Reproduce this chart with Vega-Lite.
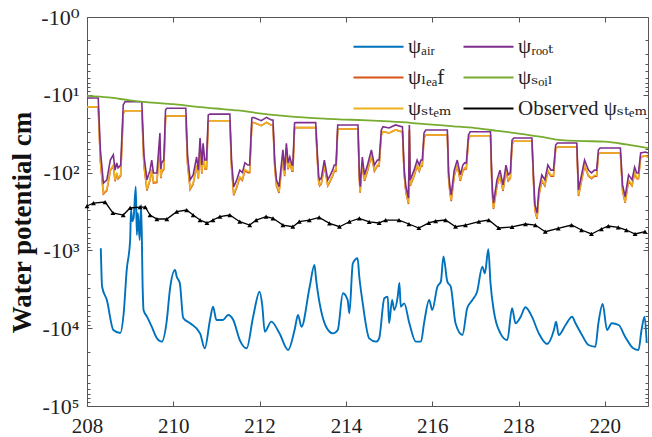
{
"$schema": "https://vega.github.io/schema/vega-lite/v6.json",
"width": 561, "height": 389,
"autosize": {"type": "none"},
"padding": {"left": 87, "top": 17, "right": 4, "bottom": 31},
"background": "white",
"config": {"view": {"stroke": "#555555", "strokeWidth": 1}, "font": "Liberation Serif"},
"datasets": {
"air": [
{"t":208.32,"v":940},{"t":208.35,"v":2930},{"t":208.46,"v":4340},{"t":208.61,"v":10550},{"t":208.77,"v":11530},{"t":208.85,"v":6430},{"t":208.92,"v":1790},{"t":209.00,"v":735},{"t":209.02,"v":303},{"t":209.05,"v":420},{"t":209.08,"v":380},{"t":209.13,"v":152},{"t":209.155,"v":634},{"t":209.18,"v":330},{"t":209.22,"v":735},{"t":209.255,"v":261},{"t":209.29,"v":3000},{"t":209.31,"v":5830},{"t":209.39,"v":7110},{"t":209.50,"v":9570},{"t":209.62,"v":13490},{"t":209.73,"v":14900},{"t":209.85,"v":7850},{"t":209.92,"v":3230},{"t":210.04,"v":1790},{"t":210.08,"v":2180},{"t":210.15,"v":2620},{"t":210.23,"v":7400},{"t":210.39,"v":8650},{"t":210.62,"v":11640},{"t":210.73,"v":18130},{"t":210.85,"v":7850},{"t":210.92,"v":5290},{"t":211.00,"v":7850},{"t":211.15,"v":7850},{"t":211.27,"v":6770},{"t":211.39,"v":7850},{"t":211.54,"v":14190},{"t":211.70,"v":18130},{"t":211.85,"v":7110},{"t":212.00,"v":3400},{"t":212.06,"v":5030},{"t":212.12,"v":11090},{"t":212.27,"v":8240},{"t":212.46,"v":11640},{"t":212.66,"v":19070},{"t":212.81,"v":10550},{"t":212.89,"v":6770},{"t":212.97,"v":9570},{"t":213.16,"v":2930},{"t":213.27,"v":1540},{"t":213.31,"v":2400},{"t":213.54,"v":9570},{"t":213.70,"v":11640},{"t":213.81,"v":10550},{"t":213.93,"v":3560},{"t":214.04,"v":4340},{"t":214.08,"v":6430},{"t":214.16,"v":1470},{"t":214.27,"v":1260},{"t":214.31,"v":2180},{"t":214.39,"v":4790},{"t":214.54,"v":13490},{"t":214.70,"v":14900},{"t":214.77,"v":13490},{"t":214.89,"v":4130},{"t":214.97,"v":3940},{"t":215.00,"v":8650},{"t":215.07,"v":4340},{"t":215.12,"v":5830},{"t":215.20,"v":3940},{"t":215.24,"v":2620},{"t":215.27,"v":5290},{"t":215.35,"v":4790},{"t":215.47,"v":8650},{"t":215.62,"v":14900},{"t":215.74,"v":14900},{"t":215.81,"v":8650},{"t":215.93,"v":4340},{"t":216.00,"v":5830},{"t":216.12,"v":2930},{"t":216.20,"v":2520},{"t":216.26,"v":1200},{"t":216.35,"v":2520},{"t":216.43,"v":2930},{"t":216.54,"v":8650},{"t":216.70,"v":12230},{"t":216.81,"v":5550},{"t":216.93,"v":4340},{"t":217.04,"v":3400},{"t":217.16,"v":1620},{"t":217.22,"v":1970},{"t":217.30,"v":968},{"t":217.35,"v":2620},{"t":217.43,"v":6140},{"t":217.58,"v":11640},{"t":217.74,"v":14190},{"t":217.85,"v":5550},{"t":217.93,"v":8650},{"t":218.05,"v":7110},{"t":218.16,"v":5380},{"t":218.31,"v":7110},{"t":218.47,"v":11640},{"t":218.66,"v":15960},{"t":218.82,"v":10550},{"t":218.87,"v":8240},{"t":218.93,"v":12230},{"t":219.09,"v":9100},{"t":219.24,"v":7110},{"t":219.32,"v":8650},{"t":219.47,"v":12230},{"t":219.62,"v":16440},{"t":219.78,"v":17300},{"t":219.85,"v":8650},{"t":219.95,"v":4890},{"t":220.05,"v":10550},{"t":220.16,"v":8650},{"t":220.32,"v":9100},{"t":220.47,"v":12850},{"t":220.66,"v":18130},{"t":220.78,"v":19070},{"t":220.85,"v":10550},{"t":220.92,"v":7110},{"t":220.97,"v":15490}
],
"soil": [
{"t":208.0,"v":10.3},{"t":208.5,"v":10.8},{"t":209.0,"v":11.8},{"t":209.5,"v":12.6},{"t":210.0,"v":13.2},{"t":210.5,"v":14.2},{"t":211.0,"v":15.0},{"t":211.5,"v":15.9},{"t":212.0,"v":17.3},{"t":212.5,"v":18.5},{"t":213.0,"v":19.5},{"t":213.5,"v":20.3},{"t":214.0,"v":20.8},{"t":214.5,"v":21.3},{"t":215.0,"v":22.0},{"t":215.5,"v":22.9},{"t":216.0,"v":24.2},{"t":216.5,"v":25.4},{"t":217.0,"v":26.8},{"t":217.5,"v":29.0},{"t":218.0,"v":31.5},{"t":218.5,"v":34.5},{"t":219.0,"v":38.3},{"t":219.5,"v":39.3},{"t":220.0,"v":40.0},{"t":220.5,"v":43.5},{"t":221.0,"v":48.5}
],
"obs": [
{"t":208.00,"v":269},{"t":208.15,"v":246},{"t":208.42,"v":239},{"t":208.60,"v":330},{"t":208.84,"v":351},{"t":209.00,"v":285},{"t":209.23,"v":277},{"t":209.35,"v":277},{"t":209.46,"v":351},{"t":209.62,"v":395},{"t":209.85,"v":395},{"t":210.08,"v":318},{"t":210.31,"v":303},{"t":210.46,"v":351},{"t":210.62,"v":407},{"t":210.78,"v":444},{"t":210.92,"v":407},{"t":211.08,"v":369},{"t":211.31,"v":351},{"t":211.54,"v":428},{"t":211.77,"v":472},{"t":211.92,"v":407},{"t":212.15,"v":369},{"t":212.31,"v":387},{"t":212.54,"v":472},{"t":212.77,"v":496},{"t":212.92,"v":428},{"t":213.15,"v":407},{"t":213.38,"v":376},{"t":213.62,"v":449},{"t":213.85,"v":496},{"t":214.08,"v":428},{"t":214.31,"v":387},{"t":214.54,"v":431},{"t":214.77,"v":444},{"t":214.92,"v":407},{"t":215.23,"v":407},{"t":215.46,"v":458},{"t":215.69,"v":515},{"t":215.92,"v":444},{"t":216.08,"v":419},{"t":216.31,"v":407},{"t":216.54,"v":496},{"t":216.77,"v":472},{"t":217.08,"v":428},{"t":217.31,"v":407},{"t":217.54,"v":515},{"t":217.85,"v":500},{"t":218.16,"v":458},{"t":218.39,"v":472},{"t":218.62,"v":575},{"t":218.92,"v":520},{"t":219.23,"v":472},{"t":219.46,"v":547},{"t":219.69,"v":615},{"t":219.92,"v":531},{"t":220.08,"v":486},{"t":220.31,"v":505},{"t":220.50,"v":547},{"t":220.70,"v":615},{"t":220.93,"v":575}
],
"plant": [
{"t":208.00,"root":11.0,"stem":14.3,"leaf":14.3},{"t":208.26,"root":11.0,"stem":14.3,"leaf":14.3},{"t":208.31,"root":51,"stem":70,"leaf":72},{"t":208.38,"root":136,"stem":183,"leaf":188},{"t":208.46,"root":124,"stem":165,"leaf":170},{"t":208.54,"root":69,"stem":92,"leaf":95},{"t":208.61,"root":59,"stem":80,"leaf":82},{"t":208.65,"root":93,"stem":125,"leaf":129},{"t":208.69,"root":75,"stem":100,"leaf":103},{"t":208.72,"root":87,"stem":117,"leaf":120},{"t":208.78,"root":80,"stem":107,"leaf":110},{"t":208.84,"root":13.5,"stem":17.5,"leaf":17.5},{"t":208.88,"root":12.3,"stem":16.0,"leaf":16.0},
{"t":209.27,"root":12.3,"stem":16.0,"leaf":16.0},{"t":209.32,"root":60,"stem":80,"leaf":82},{"t":209.39,"root":124,"stem":165,"leaf":170},{"t":209.46,"root":93,"stem":122,"leaf":126},{"t":209.50,"root":69,"stem":90,"leaf":93},{"t":209.54,"root":101,"stem":132,"leaf":136},{"t":209.62,"root":101,"stem":130,"leaf":134},{"t":209.69,"root":31,"stem":40,"leaf":41},{"t":209.71,"root":90,"stem":115,"leaf":118},{"t":209.73,"root":75,"stem":97,"leaf":100},{"t":209.78,"root":69,"stem":88,"leaf":91},{"t":209.82,"root":15.7,"stem":19.7,"leaf":19.7},{"t":209.85,"root":14.9,"stem":18.7,"leaf":18.7},
{"t":210.29,"root":14.9,"stem":18.7,"leaf":18.7},{"t":210.33,"root":60,"stem":76,"leaf":78},{"t":210.39,"root":124,"stem":160,"leaf":165},{"t":210.46,"root":107,"stem":137,"leaf":141},{"t":210.54,"root":63,"stem":80,"leaf":82},{"t":210.58,"root":93,"stem":117,"leaf":120},{"t":210.62,"root":36,"stem":45,"leaf":46},{"t":210.66,"root":80,"stem":100,"leaf":103},{"t":210.69,"root":42,"stem":53,"leaf":55},{"t":210.73,"root":69,"stem":87,"leaf":90},{"t":210.77,"root":69,"stem":87,"leaf":90},{"t":210.81,"root":18.2,"stem":22.2,"leaf":22.2},{"t":210.85,"root":17.7,"stem":21.6,"leaf":21.6},
{"t":211.31,"root":17.7,"stem":21.6,"leaf":21.6},{"t":211.35,"root":70,"stem":85,"leaf":88},{"t":211.40,"root":153,"stem":190,"leaf":196},{"t":211.47,"root":124,"stem":150,"leaf":155},{"t":211.54,"root":93,"stem":113,"leaf":116},{"t":211.60,"root":100,"stem":122,"leaf":126},{"t":211.66,"root":75,"stem":91,"leaf":94},{"t":211.73,"root":80,"stem":97,"leaf":100},{"t":211.77,"root":80,"stem":97,"leaf":100},{"t":211.82,"root":19.9,"stem":23.5,"leaf":23.5},{"t":211.85,"root":19.5,"stem":22.6,"leaf":22.6},{"t":212.04,"root":21.5,"stem":24.9,"leaf":24.9},{"t":212.16,"root":19.5,"stem":22.6,"leaf":22.6},{"t":212.27,"root":21.1,"stem":24.5,"leaf":24.5},
{"t":212.31,"root":21.1,"stem":24.5,"leaf":24.5},{"t":212.35,"root":70,"stem":82,"leaf":84},{"t":212.39,"root":124,"stem":145,"leaf":149},{"t":212.45,"root":152,"stem":178,"leaf":183},{"t":212.54,"root":51,"stem":60,"leaf":62},{"t":212.58,"root":93,"stem":108,"leaf":111},{"t":212.62,"root":42,"stem":49,"leaf":50},{"t":212.66,"root":75,"stem":88,"leaf":91},{"t":212.70,"root":63,"stem":73,"leaf":75},{"t":212.75,"root":80,"stem":93,"leaf":96},{"t":212.77,"root":80,"stem":93,"leaf":96},{"t":212.81,"root":23.0,"stem":26.6,"leaf":26.6},{"t":212.84,"root":22.8,"stem":26.4,"leaf":26.4},
{"t":213.30,"root":22.8,"stem":26.4,"leaf":26.4},{"t":213.34,"root":60,"stem":70,"leaf":72},{"t":213.37,"root":113,"stem":131,"leaf":135},{"t":213.39,"root":124,"stem":144,"leaf":148},{"t":213.43,"root":117,"stem":136,"leaf":140},{"t":213.50,"root":69,"stem":80,"leaf":82},{"t":213.58,"root":124,"stem":144,"leaf":148},{"t":213.62,"root":113,"stem":131,"leaf":135},{"t":213.69,"root":93,"stem":108,"leaf":111},{"t":213.73,"root":80,"stem":93,"leaf":96},{"t":213.77,"root":80,"stem":93,"leaf":96},{"t":213.81,"root":24.4,"stem":27.5,"leaf":27.5},
{"t":214.28,"root":24.4,"stem":27.5,"leaf":27.5},{"t":214.31,"root":100,"stem":115,"leaf":118},{"t":214.33,"root":152,"stem":176,"leaf":181},{"t":214.38,"root":63,"stem":73,"leaf":75},{"t":214.43,"root":107,"stem":124,"leaf":128},{"t":214.50,"root":80,"stem":93,"leaf":96},{"t":214.59,"root":51,"stem":59,"leaf":61},{"t":214.66,"root":80,"stem":93,"leaf":96},{"t":214.73,"root":69,"stem":80,"leaf":82},{"t":214.77,"root":69,"stem":80,"leaf":82},{"t":214.82,"root":28.3,"stem":32.8,"leaf":32.8},{"t":214.86,"root":25.7,"stem":29.8,"leaf":29.8},{"t":215.00,"root":26.7,"stem":31.0,"leaf":31.0},{"t":215.15,"root":24.4,"stem":28.3,"leaf":28.3},
{"t":215.31,"root":25.9,"stem":30.0,"leaf":30.0},{"t":215.35,"root":90,"stem":104,"leaf":107},{"t":215.39,"root":152,"stem":176,"leaf":181},{"t":215.45,"root":212,"stem":246,"leaf":253},{"t":215.47,"root":24.4,"stem":28.0,"leaf":29.0},{"t":215.49,"root":124,"stem":144,"leaf":148},{"t":215.58,"root":93,"stem":108,"leaf":111},{"t":215.65,"root":69,"stem":80,"leaf":82},{"t":215.70,"root":80,"stem":93,"leaf":96},{"t":215.74,"root":69,"stem":80,"leaf":82},{"t":215.77,"root":69,"stem":80,"leaf":82},{"t":215.81,"root":31.0,"stem":35.9,"leaf":35.9},{"t":215.85,"root":28.3,"stem":32.8,"leaf":32.8},
{"t":216.35,"root":28.3,"stem":32.8,"leaf":32.8},{"t":216.38,"root":100,"stem":116,"leaf":119},{"t":216.41,"root":152,"stem":176,"leaf":181},{"t":216.44,"root":194,"stem":225,"leaf":232},{"t":216.51,"root":93,"stem":108,"leaf":111},{"t":216.58,"root":69,"stem":80,"leaf":82},{"t":216.65,"root":107,"stem":124,"leaf":128},{"t":216.71,"root":80,"stem":93,"leaf":96},{"t":216.75,"root":75,"stem":87,"leaf":90},{"t":216.79,"root":75,"stem":87,"leaf":90},{"t":216.84,"root":32.9,"stem":37.5,"leaf":37.5},{"t":216.88,"root":29.8,"stem":33.6,"leaf":33.6},
{"t":217.35,"root":29.8,"stem":33.6,"leaf":33.6},{"t":217.38,"root":110,"stem":127,"leaf":131},{"t":217.40,"root":183,"stem":212,"leaf":218},{"t":217.42,"root":246,"stem":285,"leaf":294},{"t":217.50,"root":124,"stem":144,"leaf":148},{"t":217.57,"root":93,"stem":108,"leaf":111},{"t":217.64,"root":144,"stem":167,"leaf":172},{"t":217.71,"root":80,"stem":93,"leaf":96},{"t":217.76,"root":107,"stem":124,"leaf":128},{"t":217.81,"root":100,"stem":116,"leaf":119},{"t":217.85,"root":38.1,"stem":42.9,"leaf":42.9},{"t":217.89,"root":35.9,"stem":39.5,"leaf":39.5},
{"t":218.31,"root":35.9,"stem":39.5,"leaf":39.5},{"t":218.35,"root":120,"stem":140,"leaf":144},{"t":218.38,"root":261,"stem":300,"leaf":309},{"t":218.43,"root":330,"stem":380,"leaf":391},{"t":218.47,"root":167,"stem":194,"leaf":200},{"t":218.54,"root":107,"stem":124,"leaf":128},{"t":218.61,"root":124,"stem":144,"leaf":148},{"t":218.68,"root":80,"stem":93,"leaf":96},{"t":218.75,"root":93,"stem":108,"leaf":111},{"t":218.81,"root":93,"stem":108,"leaf":111},{"t":218.86,"root":44.2,"stem":49.6,"leaf":49.6},{"t":218.90,"root":41.7,"stem":46.9,"leaf":46.9},
{"t":219.35,"root":41.7,"stem":46.9,"leaf":46.9},{"t":219.39,"root":167,"stem":194,"leaf":200},{"t":219.46,"root":107,"stem":124,"leaf":128},{"t":219.53,"root":69,"stem":80,"leaf":82},{"t":219.62,"root":93,"stem":108,"leaf":111},{"t":219.69,"root":101,"stem":117,"leaf":120},{"t":219.76,"root":93,"stem":108,"leaf":111},{"t":219.81,"root":93,"stem":108,"leaf":111},{"t":219.85,"root":51.3,"stem":57.7,"leaf":57.7},{"t":219.89,"root":48.3,"stem":56.0,"leaf":56.0},
{"t":220.36,"root":48.3,"stem":56.0,"leaf":56.0},{"t":220.41,"root":144,"stem":167,"leaf":172},{"t":220.47,"root":204,"stem":237,"leaf":244},{"t":220.55,"root":107,"stem":124,"leaf":128},{"t":220.63,"root":124,"stem":144,"leaf":148},{"t":220.69,"root":85,"stem":99,"leaf":102},{"t":220.74,"root":101,"stem":117,"leaf":120},{"t":220.78,"root":101,"stem":117,"leaf":120},{"t":220.83,"root":56.0,"stem":63.0,"leaf":63.0},{"t":220.94,"root":54.3,"stem":61.0,"leaf":61.0},{"t":221.00,"root":56.0,"stem":63.0,"leaf":63.0}
]
},
"layer": [
{"data": {"name": "air"}, "mark": {"type": "line", "strokeWidth": 1.9, "interpolate": "monotone"},
 "encoding": {
  "x": {"field": "t", "type": "quantitative", "scale": {"domain": [208, 221], "nice": false},
        "axis": {"orient": "bottom", "values": [208,210,212,214,216,218,220], "tickSize": -5, "tickColor": "#555555", "domain": false, "grid": false, "title": null, "labelFont": "Liberation Serif", "labelFontSize": 21, "labelColor": "#222222", "labelPadding": 14, "labelFlush": false}},
  "y": {"field": "v", "type": "quantitative", "scale": {"type": "log", "domain": [1, 100000], "nice": false, "reverse": true},
        "axis": {"orient": "left", "values": [1,10,100,1000,10000,100000], "tickSize": -5, "tickColor": "#555555", "domain": false, "grid": false,
                 "labelExpr": "'-10' + ['⁰','¹','²','³','⁴','⁵'][round(log(datum.value)/LN10)]",
                 "labelFont": "Liberation Serif, DejaVu Serif, serif", "labelFontSize": 22, "labelColor": "#222222", "labelPadding": 13, "labelOverlap": false, "labelBound": false, "labelFlush": false,
                 "title": "Water potential cm", "titleFont": "Liberation Serif", "titleFontWeight": "bold", "titleFontSize": 27, "titleColor": "#111111", "titlePadding": 4, "titleY": 205}},
  "color": {"datum": "air",
            "scale": {"domain": ["air","leaf","stem","root","soil","observed"], "range": ["#0072BD","#D95319","#EDB120","#7E2F8E","#77AC30","#000000"]},
            "legend": {"orient": "none", "legendX": 266, "legendY": 19, "columns": 2, "symbolType": "M-2,0H8", "symbolSize": 100, "symbolStrokeWidth": 2, "labelOffset": 34, "labelFont": "Liberation Serif, DejaVu Serif, serif", "labelFontSize": 21, "labelColor": "#222222", "labelLimit": 300, "columnPadding": 7, "rowPadding": 9, "title": null, "padding": 0,
                       "labelExpr": "datum.label == 'air' ? 'ψₐᵢᵣ' : datum.label == 'root' ? 'ψᵣₒₒₜ' : datum.label == 'leaf' ? 'ψₗₑₐf' : datum.label == 'soil' ? 'ψₛₒᵢₗ' : datum.label == 'stem' ? 'ψₛₜₑₘ' : 'Observed ψₛₜₑₘ'"}}
 }},
{"data": {"name": "plant"}, "mark": {"type": "line", "strokeWidth": 1.6},
 "encoding": {
  "x": {"field": "t", "type": "quantitative", "scale": {"domain": [208, 221], "nice": false}, "axis": null},
  "y": {"field": "leaf", "type": "quantitative", "scale": {"type": "log", "domain": [1, 100000], "nice": false, "reverse": true},
        "axis": {"orient": "left", "values": [2,3,4,5,6,7,8,9,20,30,40,50,60,70,80,90,200,300,400,500,600,700,800,900,2000,3000,4000,5000,6000,7000,8000,9000,20000,30000,40000,50000,60000,70000,80000,90000], "tickSize": -3, "tickColor": "#555555", "domain": false, "grid": false, "labels": false, "title": null}},
  "color": {"datum": "leaf"}
 }},
{"data": {"name": "plant"}, "mark": {"type": "line", "strokeWidth": 1.6},
 "encoding": {
  "x": {"field": "t", "type": "quantitative", "scale": {"domain": [208, 221], "nice": false}, "axis": null},
  "y": {"field": "stem", "type": "quantitative", "scale": {"type": "log", "domain": [1, 100000], "nice": false, "reverse": true},
        "axis": {"orient": "right", "values": [2,3,4,5,6,7,8,9,20,30,40,50,60,70,80,90,200,300,400,500,600,700,800,900,2000,3000,4000,5000,6000,7000,8000,9000,20000,30000,40000,50000,60000,70000,80000,90000], "tickSize": -3, "tickColor": "#555555", "domain": false, "grid": false, "labels": false, "title": null}},
  "color": {"datum": "stem"}
 }},
{"data": {"name": "plant"}, "mark": {"type": "line", "strokeWidth": 1.6},
 "encoding": {
  "x": {"field": "t", "type": "quantitative", "scale": {"domain": [208, 221], "nice": false},
        "axis": {"orient": "top", "values": [208,210,212,214,216,218,220], "tickSize": -5, "tickColor": "#555555", "domain": false, "grid": false, "labels": false, "title": null}},
  "y": {"field": "root", "type": "quantitative", "scale": {"type": "log", "domain": [1, 100000], "nice": false, "reverse": true},
        "axis": {"orient": "right", "values": [1,10,100,1000,10000,100000], "tickSize": -5, "tickColor": "#555555", "domain": false, "grid": false, "labels": false, "title": null}},
  "color": {"datum": "root"}
 }},
{"data": {"name": "soil"}, "mark": {"type": "line", "strokeWidth": 1.8, "interpolate": "monotone"},
 "encoding": {
  "x": {"field": "t", "type": "quantitative", "scale": {"domain": [208, 221], "nice": false}, "axis": null},
  "y": {"field": "v", "type": "quantitative", "scale": {"type": "log", "domain": [1, 100000], "nice": false, "reverse": true}, "axis": null},
  "color": {"datum": "soil"}
 }},
{"data": {"name": "obs"}, "mark": {"type": "line", "strokeWidth": 1.3, "point": {"shape": "triangle-up", "filled": true, "size": 24}},
 "encoding": {
  "x": {"field": "t", "type": "quantitative", "scale": {"domain": [208, 221], "nice": false}, "axis": null},
  "y": {"field": "v", "type": "quantitative", "scale": {"type": "log", "domain": [1, 100000], "nice": false, "reverse": true}, "axis": null},
  "color": {"datum": "observed"}
 }}
],
"resolve": {"axis": {"x": "independent", "y": "independent"}}
}
